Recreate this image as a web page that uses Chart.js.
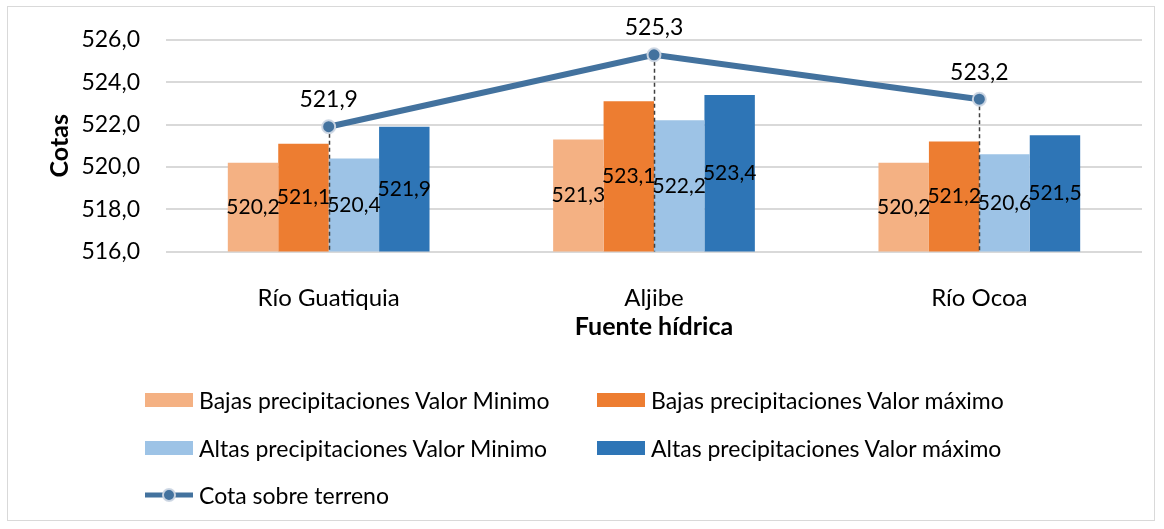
<!DOCTYPE html>
<html>
<head>
<meta charset="utf-8">
<script src="https://cdn.jsdelivr.net/npm/chart.js@4.4.1/dist/chart.umd.min.js"></script>
<style>
  html, body { margin: 0; padding: 0; background: #fff; }
  #wrap { position: relative; width: 1164px; height: 529px; overflow: hidden; font-family: Lato, "Noto Sans", sans-serif; }
  #frame { position: absolute; left: 7px; top: 6px; width: 1148px; height: 515px; border: 1.5px solid #d9d9d9; box-sizing: border-box; pointer-events: none; }
  canvas { position: absolute; left: 0; top: 0; }
  .lg { position: absolute; display: flex; align-items: center; height: 28px; font-size: 23px; color: #000; white-space: nowrap; }
  .sw { display: inline-block; width: 48px; height: 14px; margin-right: 6px; }
</style>
</head>
<body>
<div id="wrap">
  <canvas id="c" width="1164" height="529"></canvas>
  <div id="frame"></div>
  <div id="legend"></div>
</div>
<script>
const categories = ['Río Guatiquia', 'Aljibe', 'Río Ocoa'];
const seriesNames = [
  'Bajas precipitaciones Valor Minimo',
  'Bajas precipitaciones Valor máximo',
  'Altas precipitaciones Valor Minimo',
  'Altas precipitaciones Valor máximo',
  'Cota sobre terreno'
];
const bajasMin = [520.2, 521.3, 520.2];
const bajasMax = [521.1, 523.1, 521.2];
const altasMin = [520.4, 522.2, 520.6];
const altasMax = [521.9, 523.4, 521.5];
const cotaTerreno = [521.9, 525.3, 523.2];
const yTicks = [516, 518, 520, 522, 524, 526];

const barColors = ['#F4B183', '#ED7D31', '#9DC3E6', '#2E75B6'];
const lineColor = '#43729E';
const FONT = 'Lato, "Noto Sans", sans-serif';
const fmt = v => v.toFixed(1).replace('.', ',');

const barSeries = [bajasMin, bajasMax, altasMin, altasMax];
const datasets = barSeries.map((d, i) => ({
  type: 'bar', label: seriesNames[i], data: d, backgroundColor: barColors[i],
  order: 1, categoryPercentage: 0.62, barPercentage: 1.0, borderWidth: 0
}));
datasets.push({
  type: 'line', label: seriesNames[4], data: cotaTerreno, borderColor: lineColor,
  borderWidth: 6, pointRadius: 6.5, pointBackgroundColor: lineColor,
  pointBorderColor: 'rgba(205,215,228,0.95)', pointBorderWidth: 2,
  order: 0, tension: 0, clip: false
});

const dropAndLabels = {
  id: 'dropAndLabels',
  beforeDatasetDraw(chart, args) {
    if (args.index !== 4) return;
    const ctx = chart.ctx;
    const meta = chart.getDatasetMeta(4);
    const bottom = chart.scales.y.getPixelForValue(yTicks[0]);
    ctx.save();
    ctx.strokeStyle = '#404040';
    ctx.lineWidth = 1.5;
    ctx.setLineDash([4, 3]);
    meta.data.forEach(p => {
      ctx.beginPath();
      ctx.moveTo(Math.round(p.x) + 0.5, p.y);
      ctx.lineTo(Math.round(p.x) + 0.5, bottom);
      ctx.stroke();
    });
    ctx.restore();
  },
  afterDatasetsDraw(chart) {
    const ctx = chart.ctx;
    const ys = chart.scales.y;
    const bottom = ys.getPixelForValue(yTicks[0]);
    ctx.save();
    ctx.fillStyle = '#000';
    ctx.textAlign = 'center';
    ctx.textBaseline = 'middle';
    ctx.font = '21px ' + FONT;
    for (let i = 0; i < 4; i++) {
      const meta = chart.getDatasetMeta(i);
      meta.data.forEach((b, j) => {
        const top = ys.getPixelForValue(barSeries[i][j]);
        ctx.fillText(fmt(barSeries[i][j]), b.x, (top + bottom) / 2);
      });
    }
    ctx.font = '23px ' + FONT;
    const lm = chart.getDatasetMeta(4);
    lm.data.forEach((p, j) => {
      ctx.fillText(fmt(cotaTerreno[j]), p.x, p.y - 27);
    });
    ctx.restore();
  }
};

new Chart(document.getElementById('c'), {
  data: { labels: categories, datasets },
  options: {
    responsive: false,
    animation: false,
    events: [],
    layout: { padding: { left: 36, right: 22, top: 40, bottom: 187 } },
    plugins: { legend: { display: false }, tooltip: { enabled: false } },
    scales: {
      x: {
        type: 'category', offset: true,
        grid: { display: false }, border: { display: false },
        ticks: { color: '#000', font: { family: FONT, size: 24 }, padding: 24, maxRotation: 0 },
        title: { display: true, text: 'Fuente hídrica', color: '#000', font: { family: FONT, size: 25, weight: 'bold' }, padding: { top: 0, bottom: 0 } },
        afterFit(s) { s.height = 90.5; }
      },
      y: {
        min: 516, max: 526,
        afterBuildTicks(s) { s.ticks = yTicks.map(v => ({ value: v })); },
        grid: { color: '#d9d9d9', lineWidth: 2, drawTicks: false },
        border: { display: false },
        ticks: { color: '#000', font: { family: FONT, size: 23 }, padding: 26, callback: v => fmt(v) },
        title: { display: true, text: 'Cotas', color: '#000', font: { family: FONT, size: 25, weight: 'bold' }, padding: { top: 9, bottom: 0 } },
        afterFit(s) { s.width = 130; }
      }
    }
  },
  plugins: [dropAndLabels]
});

// Legend (HTML)
const legendPos = [
  { x: 145, y: 400 }, { x: 597, y: 400 },
  { x: 145, y: 448 }, { x: 597, y: 448 },
  { x: 145, y: 495 }
];
const lg = document.getElementById('legend');
seriesNames.forEach((name, i) => {
  const d = document.createElement('div');
  d.className = 'lg';
  d.style.left = legendPos[i].x + 'px';
  d.style.top = (legendPos[i].y - 14) + 'px';
  let sw;
  if (i < 4) {
    sw = '<span class="sw" style="background:' + barColors[i] + '"></span>';
  } else {
    sw = '<svg width="48" height="20" style="margin-right:6px"><line x1="0" y1="10" x2="48" y2="10" stroke="' + lineColor + '" stroke-width="5"/><circle cx="24" cy="10" r="6" fill="' + lineColor + '" stroke="rgba(205,215,228,0.95)" stroke-width="2"/></svg>';
  }
  d.innerHTML = sw + '<span>' + name + '</span>';
  lg.appendChild(d);
});
</script>
</body>
</html>
